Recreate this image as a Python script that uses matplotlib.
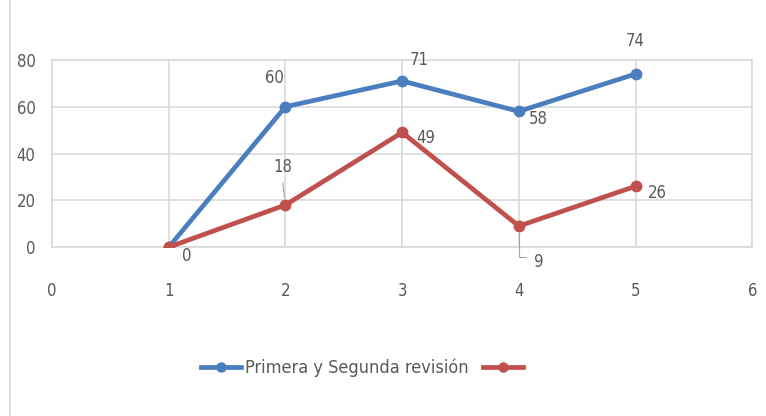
import matplotlib
matplotlib.use("Agg")
import matplotlib.pyplot as plt
from matplotlib.lines import Line2D

plt.rcParams['font.family'] = ['DejaVu Sans']
plt.rcParams['font.stretch'] = 'condensed'

x_vals = [1, 2, 3, 4, 5]
serie_1 = [0, 60, 71, 58, 74]
serie_2 = [0, 18, 49, 9, 26]
nombre_1 = "Primera y Segunda revisión"
nombre_2 = ""
x_ticks = [0, 1, 2, 3, 4, 5, 6]
y_ticks = [0, 20, 40, 60, 80]

azul = '#4a7ebf'
rojo = '#c0504d'
gris = '#595959'

fig = plt.figure(figsize=(7.66, 4.16), dpi=100)
ax = fig.add_axes([0.068, 0.406, 0.914, 0.45])

ax.plot(x_vals, serie_1, color=azul, lw=3.4, marker='o', ms=7.5, zorder=3)
ax.plot(x_vals, serie_2, color=rojo, lw=3.4, marker='o', ms=7.5, zorder=3)

# etiquetas de datos (offsets en puntos)
off_1 = [(8, -10), (-8, 21), (12, 15), (14, -5.5), (0, 24)]
off_2 = [(13, -6.5), (-2, 27), (17, -4), (14, -26), (16, -5)]
for xi, yi, (dx, dy) in zip(x_vals, serie_1, off_1):
    if xi == 1:
        continue
    ax.annotate(str(yi), (xi, yi), xytext=(dx, dy), textcoords='offset points',
                ha='center', va='center', fontsize=12, color=gris)
for xi, yi, (dx, dy) in zip(x_vals, serie_2, off_2):
    ax.annotate(str(yi), (xi, yi), xytext=(dx, dy), textcoords='offset points',
                ha='center', va='center', fontsize=12, color=gris)

# lineas guia de las etiquetas 18 y 9
ax.annotate('', (2, 18), xytext=(-2, 16), textcoords='offset points',
            arrowprops=dict(arrowstyle='-', color='#a6a6a6', lw=0.8, shrinkA=0, shrinkB=5))
ax.annotate('', (4, 9), xytext=(5, -22), textcoords='offset points',
            arrowprops=dict(arrowstyle='-', color='#a6a6a6', lw=0.8, shrinkA=0, shrinkB=5,
                            connectionstyle='angle,angleA=0,angleB=90,rad=0'))

ax.set_xlim(0, 6)
ax.set_ylim(0, 80)
ax.set_xticks(x_ticks)
ax.set_yticks(y_ticks)
ax.grid(True, color='#d9d9d9', lw=1.2)
ax.set_axisbelow(True)
for s in ax.spines.values():
    s.set_color('#d9d9d9')
    s.set_linewidth(1.2)
ax.tick_params(length=0, labelsize=12, colors=gris)
ax.tick_params(axis='x', pad=25)
ax.tick_params(axis='y', pad=12)

handles = [Line2D([], [], color=azul, lw=3.4, marker='o', ms=6.5),
           Line2D([], [], color=rojo, lw=3.4, marker='o', ms=6.5)]
fig.legend(handles, [nombre_1, nombre_2], loc='center', bbox_to_anchor=(0.475, 0.115),
           ncol=2, frameon=False, fontsize=13, labelcolor=gris,
           handlelength=2.2, handletextpad=0.2, columnspacing=0.8)

fig.add_artist(Line2D([0.013, 0.013], [0, 1], color='#d9d9d9', lw=1.2))

fig.savefig('out.png', dpi=100)
